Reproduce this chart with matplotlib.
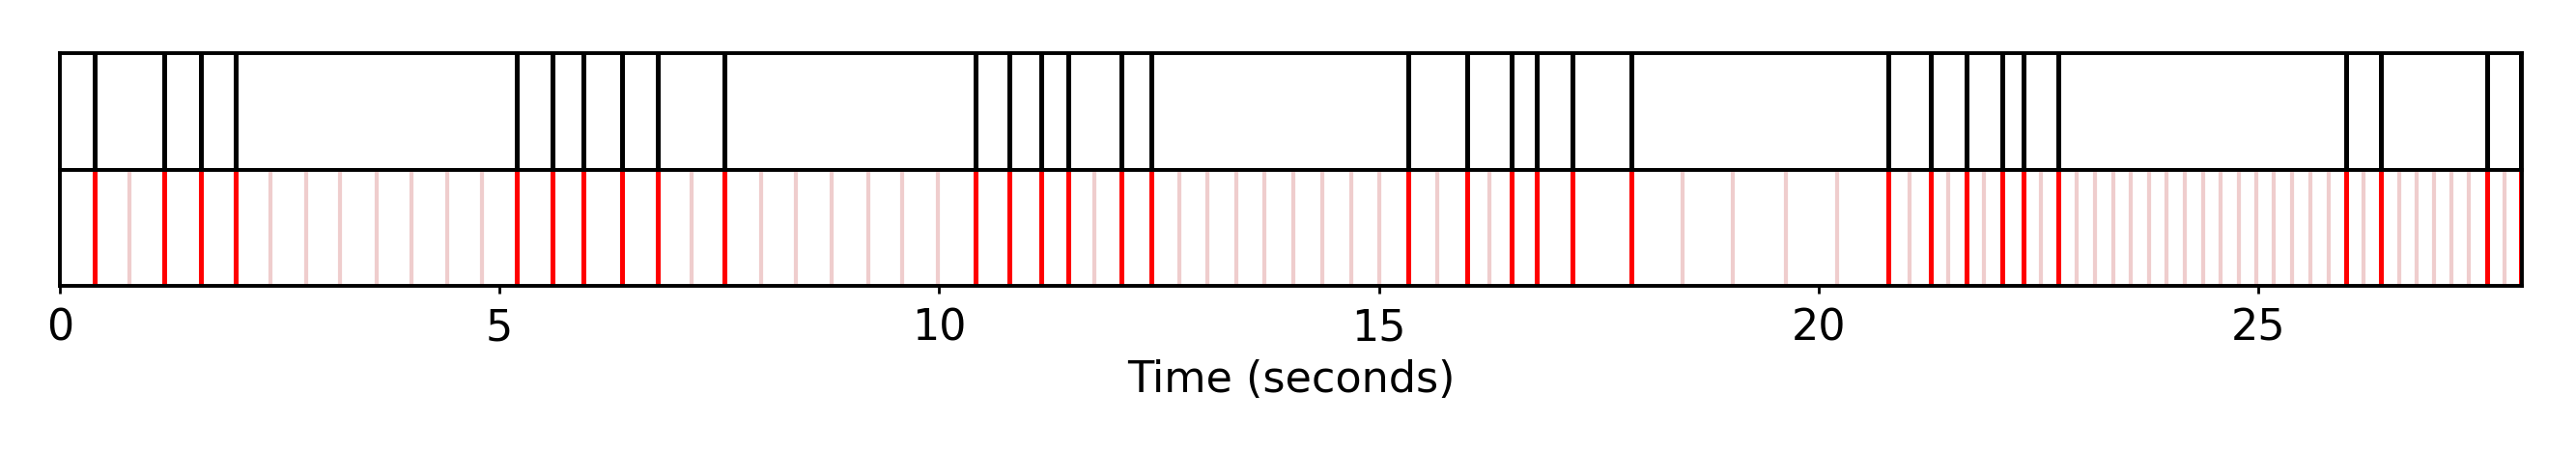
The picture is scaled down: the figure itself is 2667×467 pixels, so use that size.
import numpy as np
import matplotlib
matplotlib.use('Agg')
import matplotlib.pyplot as plt

# все доли такта (секунды)
beats = [0.40, 0.79, 1.19, 1.60, 2.00, 2.40, 2.80, 3.19, 3.60, 4.00, 4.40, 4.80,
         5.20, 5.60, 5.95, 6.39, 6.80, 7.18, 7.56, 7.97, 8.37, 8.78, 9.19, 9.58,
         9.99, 10.41, 10.80, 11.16, 11.47, 11.77, 12.07, 12.41, 12.73, 13.05, 13.38,
         13.70, 14.03, 14.36, 14.69, 15.01, 15.33, 15.66, 16.00, 16.26, 16.51, 16.80,
         17.20, 17.87, 18.45, 19.03, 19.63, 20.21, 20.79, 21.04, 21.28, 21.48, 21.68,
         21.88, 22.09, 22.33, 22.53, 22.73, 22.94, 23.14, 23.35, 23.55, 23.76, 23.96,
         24.17, 24.37, 24.57, 24.78, 24.98, 25.18, 25.39, 25.59, 25.80, 26.00, 26.20,
         26.40, 26.60, 26.80, 27.00, 27.20, 27.40, 27.60, 27.80, 27.99]

# онсеты (совпадают с долями)
onsets = [0.40, 1.19, 1.60, 2.00, 5.20, 5.60, 5.95, 6.39, 6.80, 7.56,
          10.41, 10.80, 11.16, 11.47, 12.07, 12.41, 15.33, 16.00, 16.51, 16.80,
          17.20, 17.87, 20.79, 21.28, 21.68, 22.09, 22.33, 22.73, 26.00, 26.40,
          27.60, 27.99]

duration = 28.0
xticks = [0, 5, 10, 15, 20, 25]

plt.rcParams['font.family'] = 'DejaVu Sans'
plt.rcParams['font.size'] = 16

fig = plt.figure(figsize=(13.335, 2.335), dpi=200)
left, right = 0.02325, 0.979
ax_top = fig.add_axes([left, 0.6238, right - left, 0.8822 - 0.6238])
ax_bot = fig.add_axes([left, 0.3662, right - left, 0.6238 - 0.3662])

ax_top.vlines(onsets, 0, 1, color='black', linewidth=1.8)
ax_top.set_xlim(0, duration)
ax_top.set_ylim(0, 1)
ax_top.set_xticks([])
ax_top.set_yticks([])

ax_bot.vlines(beats, 0, 1, color='#efcdcd', linewidth=1.5)
ax_bot.vlines(onsets, 0, 1, color='red', linewidth=1.8)
ax_bot.set_xlim(0, duration)
ax_bot.set_ylim(0, 1)
ax_bot.set_yticks([])
ax_bot.set_xticks(xticks)
ax_bot.tick_params(axis='x', length=3, width=1.0, pad=5)
ax_bot.set_xlabel('Time (seconds)', labelpad=4)

for ax in (ax_top, ax_bot):
    for s in ax.spines.values():
        s.set_linewidth(1.4)

fig.savefig('out.png', dpi=200)
